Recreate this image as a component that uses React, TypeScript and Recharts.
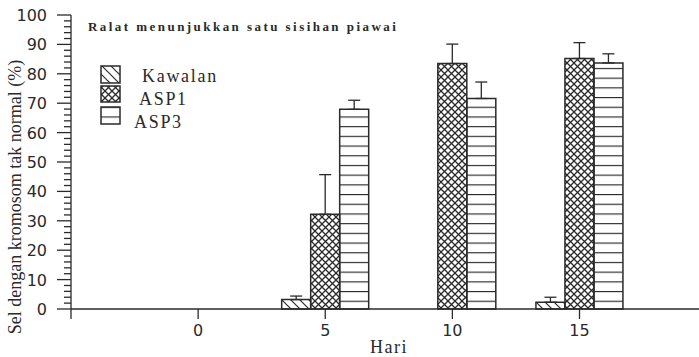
import React from "react";
import { BarChart, Bar, XAxis, YAxis, ErrorBar } from "recharts";

// values (% of cells with abnormal chromosomes)
const days = [5, 10, 15];
const kawalan = [3.2, null, 2.3];
const kawalanErr = [1.2, null, 1.7];
const asp1 = [32.2, 83.5, 85.2];
const asp1Err = [13.5, 6.6, 5.4];
const asp3 = [67.9, 71.6, 83.7];
const asp3Err = [3.1, 5.6, 3.1];

const xTicks = [-5, 0, 5, 10, 15];
const yTicks = Array.from({ length: 51 }, (_, i) => i * 2);

const INK = "#2a2a2a";
const SERIF = "'Liberation Serif', 'Times New Roman', serif";
const SANS = "'DejaVu Sans', sans-serif";

const data = days.map((d, i) => ({
  day: d,
  kawalan: kawalan[i],
  kawalanErr: kawalanErr[i] == null ? null : [0, kawalanErr[i]],
  asp1: asp1[i],
  asp1Err: [0, asp1Err[i]],
  asp3: asp3[i],
  asp3Err: [0, asp3Err[i]],
}));

function Patterns({ prefix }: { prefix: string }) {
  return (
    <defs>
      <pattern id={`${prefix}-hatch`} width={9} height={9} patternUnits="userSpaceOnUse">
        <path d="M0,0 L9,9 M-3,6 L3,12 M6,-3 L12,3" stroke={INK} strokeWidth={1.2} />
      </pattern>
      <pattern id={`${prefix}-cross`} width={7} height={7} patternUnits="userSpaceOnUse">
        <path d="M0,0 L7,7 M7,0 L0,7" stroke={INK} strokeWidth={1.3} />
      </pattern>
      <pattern id={`${prefix}-hlines`} width={10} height={9.7} patternUnits="userSpaceOnUse">
        <path d="M0,0.5 L10,0.5" stroke={INK} strokeWidth={1.3} />
      </pattern>
    </defs>
  );
}

const YTick = (props: any) => {
  const { x, y, payload } = props;
  const v = payload.value as number;
  const major = v % 10 === 0;
  return (
    <g>
      <line x1={x - (major ? 14 : 7)} x2={x} y1={y} y2={y} stroke={INK} strokeWidth={1.3} />
      {major && (
        <text x={x - 24} y={y + 6} textAnchor="end" fontFamily={SANS} fontSize={16} fill={INK}>
          {v}
        </text>
      )}
    </g>
  );
};

const XTick = (props: any) => {
  const { x, y, payload } = props;
  const v = payload.value as number;
  return (
    <g>
      <line x1={x} x2={x} y1={y} y2={y + 10} stroke={INK} strokeWidth={1.3} />
      {v >= 0 && (
        <text x={x} y={y + 27} textAnchor="middle" fontFamily={SANS} fontSize={16} fill={INK}>
          {v}
        </text>
      )}
    </g>
  );
};

const legendItems = [
  { label: "Kawalan", fill: "lg-hatch", y: 66, h: 17, tx: 142, ty: 82 },
  { label: "ASP1", fill: "lg-cross", y: 86, h: 16, tx: 139, ty: 105 },
  { label: "ASP3", fill: "lg-hlines", y: 107, h: 17, tx: 134, ty: 128 },
];

export default function App() {
  return (
    <div style={{ position: "absolute", left: 0, top: 0, width: 699, height: 357, background: "#fff" }}>
      <BarChart
        width={699}
        height={357}
        data={data}
        margin={{ top: 15, right: 0, bottom: 0, left: 0 }}
        barGap={0}
        barSize={29}
      >
        <Patterns prefix="ch" />
        <XAxis
          dataKey="day"
          type="number"
          domain={[-5, 19.7]}
          allowDataOverflow
          ticks={xTicks}
          interval={0}
          height={48}
          tickSize={0}
          tickMargin={0}
          tickLine={false}
          tick={<XTick />}
          axisLine={{ stroke: INK, strokeWidth: 1.3 }}
        />
        <YAxis
          domain={[0, 100]}
          ticks={yTicks}
          interval={0}
          width={71}
          tickSize={0}
          tickMargin={0}
          tickLine={false}
          tick={<YTick />}
          axisLine={{ stroke: INK, strokeWidth: 1.3 }}
        />
        <Bar dataKey="kawalan" fill="url(#ch-hatch)" stroke={INK} strokeWidth={1.5} isAnimationActive={false}>
          <ErrorBar dataKey="kawalanErr" width={6} stroke={INK} strokeWidth={1.3} direction="y" />
        </Bar>
        <Bar dataKey="asp1" fill="url(#ch-cross)" stroke={INK} strokeWidth={1.5} isAnimationActive={false}>
          <ErrorBar dataKey="asp1Err" width={6} stroke={INK} strokeWidth={1.3} direction="y" />
        </Bar>
        <Bar dataKey="asp3" fill="url(#ch-hlines)" stroke={INK} strokeWidth={1.5} isAnimationActive={false}>
          <ErrorBar dataKey="asp3Err" width={6} stroke={INK} strokeWidth={1.3} direction="y" />
        </Bar>
      </BarChart>
      <svg
        width={699}
        height={357}
        style={{ position: "absolute", left: 0, top: 0, pointerEvents: "none" }}
      >
        <Patterns prefix="lg" />
        <text x={88} y={31} fontFamily={SERIF} fontSize={13} fontWeight="bold" letterSpacing={2.45} fill={INK}>
          Ralat menunjukkan satu sisihan piawai
        </text>
        {legendItems.map((it) => (
          <g key={it.label}>
            <rect x={101} y={it.y} width={19} height={it.h} fill={`url(#${it.fill})`} stroke={INK} strokeWidth={1.5} />
            <text x={it.tx} y={it.ty} fontFamily={SERIF} fontSize={18} letterSpacing={1.7} fill={INK}>
              {it.label}
            </text>
          </g>
        ))}
        <text
          transform="translate(21,197) rotate(-90)"
          textAnchor="middle"
          fontFamily={SERIF}
          fontSize={18}
          fill={INK}
        >
          Sel dengan kromosom tak normal (%)
        </text>
        <text x={389} y={353} textAnchor="middle" fontFamily={SERIF} fontSize={18} letterSpacing={1.5} fill={INK}>
          Hari
        </text>
      </svg>
    </div>
  );
}
